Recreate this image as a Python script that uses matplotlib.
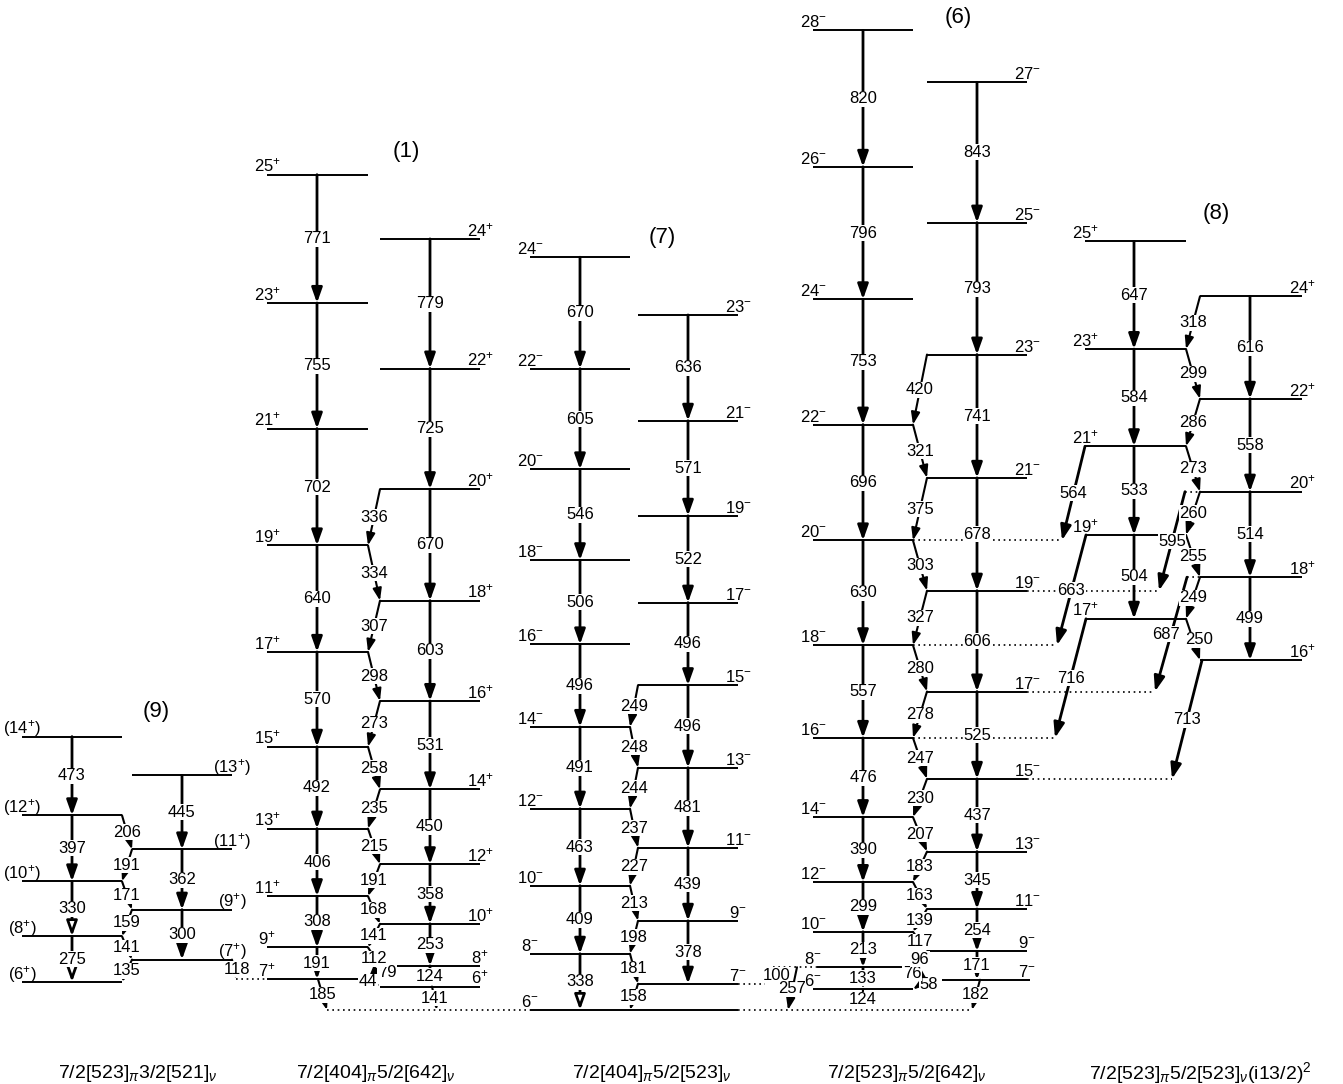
import matplotlib.pyplot as plt
from matplotlib.patches import FancyArrowPatch

plt.rcParams['font.family'] = ['Liberation Sans', 'DejaVu Sans']
plt.rcParams['mathtext.fontset'] = 'custom'
plt.rcParams['mathtext.rm'] = 'Liberation Sans'
plt.rcParams['mathtext.it'] = 'Liberation Sans:italic'

# energies in keV, measured from the 6- level of band (7)
# gamma lists run from the bottom of each cascade upwards

# band (9)
b9_even_spins = [6, 8, 10, 12, 14]
b9_even_gam = [275, 330, 397, 473]
b9_odd_spins = [7, 9, 11, 13]
b9_odd_gam = [300, 362, 445]
b9_m1 = [135, 141, 159, 171, 191, 206]
b9_link = 118

# band (1)
b1_odd_spins = [7, 9, 11, 13, 15, 17, 19, 21, 23, 25]
b1_odd_gam = [191, 308, 406, 492, 570, 640, 702, 755, 771]
b1_even_spins = [6, 8, 10, 12, 14, 16, 18, 20, 22, 24]
b1_even_gam = [124, 253, 358, 450, 531, 603, 670, 725, 779]
b1_m1 = [44, 79, 112, 141, 168, 191, 215, 235, 258, 273, 298, 307, 334, 336]
b1_out = [185, 141]

# band (7)
b7_even_spins = [6, 8, 10, 12, 14, 16, 18, 20, 22, 24]
b7_even_gam = [338, 409, 463, 491, 496, 506, 546, 605, 670]
b7_odd_spins = [7, 9, 11, 13, 15, 17, 19, 21, 23]
b7_odd_gam = [378, 439, 481, 496, 496, 522, 571, 636]
b7_m1 = [158, 181, 198, 213, 227, 237, 244, 248, 249]

# band (6)
b6_even_spins = [6, 8, 10, 12, 14, 16, 18, 20, 22, 24, 26, 28]
b6_even_gam = [133, 213, 299, 390, 476, 557, 630, 696, 753, 796, 820]
b6_odd_spins = [7, 9, 11, 13, 15, 17, 19, 21, 23, 25, 27]
b6_odd_gam = [171, 254, 345, 437, 525, 606, 678, 741, 793, 843]
b6_m1 = [58, 76, 96, 117, 139, 163, 183, 207, 230, 247, 278, 280, 327, 303, 375, 321, 420]
b6_out = [124, 182]
b6_link = [100, 257]

# band (8)
b8_odd_spins = [17, 19, 21, 23, 25]
b8_odd_gam = [504, 533, 584, 647]
b8_even_spins = [16, 18, 20, 22, 24]
b8_even_gam = [499, 514, 558, 616]
b8_m1 = [250, 249, 255, 260, 273, 286, 299, 318]
b8_out_odd = [716, 663, 564]    # 17+,19+,21+ -> 16-,18-,20-
b8_out_even = [713, 687, 595]   # 16+,18+,20+ -> 15-,17-,19-

titles = ['(9)', '(1)', '(7)', '(6)', '(8)']
configs = [r'7/2[523]$_\pi$3/2[521]$_\nu$', r'7/2[404]$_\pi$5/2[642]$_\nu$',
           r'7/2[404]$_\pi$5/2[523]$_\nu$', r'7/2[523]$_\pi$5/2[642]$_\nu$',
           r'7/2[523]$_\pi$5/2[523]$_\nu$(i13/2)$^2$']


def ladder(e0, gams):
    out = [e0]
    for g in gams:
        out.append(out[-1] + g)
    return out


b7_even_E = ladder(0, b7_even_gam)
b7_odd_E = ladder(b7_m1[0], b7_odd_gam)
b1_odd_E = ladder(b1_out[0], b1_odd_gam)
b1_even_E = ladder(b1_out[1], b1_even_gam)
b9_odd_E = ladder(b1_odd_E[0] + b9_link, b9_odd_gam)
b9_even_E = ladder(b9_odd_E[0] - b9_m1[0], b9_even_gam)
b6_even_E = ladder(b6_out[0], b6_even_gam)
b6_odd_E = ladder(b6_out[1], b6_odd_gam)
b6_lev = dict(zip(b6_even_spins, b6_even_E)) | dict(zip(b6_odd_spins, b6_odd_E))
b8_even_E = ladder(b6_lev[15] + b8_out_even[0], b8_even_gam)
b8_odd_E = ladder(b6_lev[16] + b8_out_odd[0], b8_odd_gam)

SC = 0.1664   # px per keV
Y0 = 1010
FS = 12
fig = plt.figure(figsize=(13.43, 10.84), dpi=100)
ax = fig.add_axes([0, 0, 1, 1])
ax.set_xlim(0, 1343)
ax.set_ylim(-(1084 - Y0) / SC, Y0 / SC)
ax.axis('off')


def ey(py):
    return (Y0 - py) / SC


def hline(x0, x1, e, dotted=False):
    if dotted:
        ax.plot([x0, x1], [e, e], color='k', lw=1.2, ls=(0, (1, 2.2)), zorder=1)
    else:
        ax.plot([x0, x1], [e, e], color='k', lw=1.4, solid_capstyle='butt', zorder=1)


def arrow(x0, e0, x1, e1, big=True, hollow=False):
    if big:
        st = '-|>,head_length=0.45,head_width=0.16'
        lw = 2.0
    else:
        st = '-|>,head_length=0.36,head_width=0.13'
        lw = 1.5
    ax.add_patch(FancyArrowPatch((x0, e0), (x1, e1), arrowstyle=st, mutation_scale=20,
                                 lw=lw, ec='k', fc='white' if hollow else 'k',
                                 shrinkA=0, shrinkB=0, zorder=2))


def tlabel(x, e, s, size=FS):
    ax.text(x, e, s, ha='center', va='center', fontsize=size, zorder=3,
            bbox=dict(fc='white', ec='none', pad=0.4))


def jlabel(j, par, paren):
    s = f'{j}$^{{{par}}}$'
    return f'({s})' if paren else s


def draw_band(cl, cr, m1, par, paren=False, shift=None):
    shift = shift or {}
    lev = {}
    for col, side in ((cl, 'L'), (cr, 'R')):
        ext = col.get('ext', {})
        for j, e in zip(col['spins'], col['E']):
            xa, xb = ext.get(j, (col['xa'], col['xb']))
            hline(xa, xb, e)
            lx = col['xa'] if side == 'L' else col['xb']
            ax.text(lx, e + 3 / SC, jlabel(j, par, paren), ha='center', va='baseline',
                    fontsize=FS, zorder=3)
            lev[j] = (e, col['xb'] if side == 'L' else col['xa'])
        for k, g in enumerate(col['gam']):
            e_lo, e_hi = col['E'][k], col['E'][k + 1]
            arrow(col['xg'], e_hi, col['xg'], e_lo, hollow=g in col.get('open', []))
            tlabel(col['xg'], (e_lo + e_hi) / 2, str(g))
    j0 = min(lev)
    for k, g in enumerate(m1):
        e_hi, x_hi = lev[j0 + k + 1]
        e_lo, x_lo = lev[j0 + k]
        arrow(x_hi, e_hi, x_lo, e_lo, big=False)
        dx, dy = shift.get(k, (0, 0))
        tlabel((x_hi + x_lo) / 2 + dx, (e_hi + e_lo) / 2 + dy / SC, str(g))
    return lev


b9 = draw_band(dict(spins=b9_even_spins, E=b9_even_E, gam=b9_even_gam, xa=22, xb=122, xg=72, open=[275, 330]),
               dict(spins=b9_odd_spins, E=b9_odd_E, gam=b9_odd_gam, xa=132, xb=232, xg=182),
               b9_m1, '+', paren=True)
b1 = draw_band(dict(spins=b1_odd_spins, E=b1_odd_E, gam=b1_odd_gam, xa=267, xb=368, xg=317),
               dict(spins=b1_even_spins, E=b1_even_E, gam=b1_even_gam, xa=380, xb=480, xg=430,
                    ext={8: (392, 480)}),
               b1_m1, '+', shift={0: (-6, 1), 1: (13, 0), 2: (0, -2)})
b7 = draw_band(dict(spins=b7_even_spins, E=b7_even_E, gam=b7_even_gam, xa=530, xb=630, xg=580,
                    ext={6: (530, 738)}, open=[338]),
               dict(spins=b7_odd_spins, E=b7_odd_E, gam=b7_odd_gam, xa=638, xb=738, xg=688),
               b7_m1, '-')
b6 = draw_band(dict(spins=b6_even_spins, E=b6_even_E, gam=b6_even_gam, xa=813, xb=913, xg=863,
                    ext={8: (817, 907)}),
               dict(spins=b6_odd_spins, E=b6_odd_E, gam=b6_odd_gam, xa=927, xb=1027, xg=977,
                    ext={7: (942, 1030)}),
               b6_m1, '-', shift={0: (9, 0), 1: (-8, 0)})
b8 = draw_band(dict(spins=b8_odd_spins, E=b8_odd_E, gam=b8_odd_gam, xa=1085, xb=1186, xg=1134),
               dict(spins=b8_even_spins, E=b8_even_E, gam=b8_even_gam, xa=1200, xb=1302, xg=1250),
               b8_m1, '+', shift={0: (6, 0)})

# (9) -> (1)
e_a, e_b = b9[7][0], b1[7][0]
arrow(232, e_a, 236, e_b, big=False)
tlabel(237, (e_a + e_b) / 2, str(b9_link))
hline(236, 267, e_b, dotted=True)

# bottom of (1) onto the 6- level
hline(327, 530, 0, dotted=True)
hline(738, 972, 0, dotted=True)
for (x0, x1), j, g in zip([(318, 327), (432, 437)], [7, 6], b1_out):
    e = b1[j][0]
    arrow(x0, e, x1, 0, big=False)
    tlabel((x0 + x1) / 2, e / 2, str(g))

# bottom of (6)
hline(738, 765, b7[7][0], dotted=True)
e8 = b6[8][0]
hline(773, 817, e8, dotted=True)
arrow(797, e8, 788, 0, big=False)
tlabel(777, (e8 + b7[7][0]) / 2, str(b6_link[0]))
tlabel(792, e8 / 2, str(b6_link[1]))
for (x0, x1), j, g in zip([(863, 862), (980, 972)], [6, 7], b6_out):
    e = b6[j][0]
    arrow(x0, e, x1, 0, big=False)
    tlabel((x0 + x1) / 2, e / 2, str(g))

# (8) -> (6)
for (x0, x1), j, g in zip([(1086, 1055), (1086, 1057), (1085, 1062)], [17, 19, 21], b8_out_odd):
    e_hi, e_lo = b8[j][0], b6[j - 1][0]
    hline(913, x1, e_lo, dotted=True)
    arrow(x0, e_hi, x1, e_lo)
    tlabel((x0 + x1) / 2, (e_hi + e_lo) / 2, str(g))
for (x0, x1), j, g, dx in zip([(1202, 1172), (1187, 1155), (1185, 1159)], [16, 18, 20],
                              b8_out_even, [0, -5, 0]):
    e_hi, e_lo = b8[j][0], b6[j - 1][0]
    hline(1027, x1, e_lo, dotted=True)
    if x0 < 1200:
        hline(x0, 1200, e_hi, dotted=True)
    arrow(x0, e_hi, x1, e_lo)
    tlabel((x0 + x1) / 2 + dx, (e_hi + e_lo) / 2, str(g))

for (x, py), t in zip([(156, 712), (406, 152), (662, 237), (958, 17), (1216, 213)], titles):
    ax.text(x, ey(py), t, ha='center', va='center', fontsize=16)
for x, t in zip([138, 376, 652, 907, 1200], configs):
    ax.text(x, ey(1073), t, ha='center', va='center', fontsize=14)

fig.savefig('out.png', dpi=100)
